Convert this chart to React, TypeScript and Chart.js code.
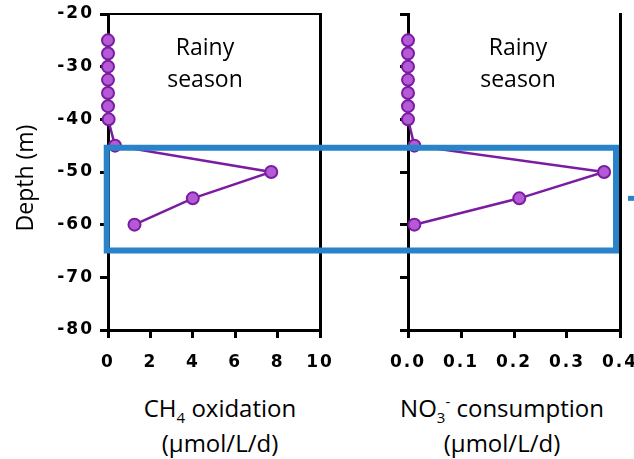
import React, { useEffect, useRef } from "react";
import { Chart, registerables } from "chart.js";

Chart.register(...registerables);

// ---- data ----
const depths = [-25, -27.5, -30, -32.5, -35, -37.5, -40, -45, -50, -55, -60];
const ch4Oxidation = [0, 0, 0, 0, 0, 0, 0.03, 0.33, 7.7, 4.0, 1.25];
const no3Consumption = [0, 0, 0, 0, 0, 0, 0, 0.012, 0.37, 0.21, 0.012];
const depthTicks = [-20, -30, -40, -50, -60, -70, -80];
const ch4Ticks = [0, 2, 4, 6, 8, 10];
const no3Ticks = [0, 0.1, 0.2, 0.3, 0.4];
// highlighted depth band (m) and its horizontal extent on each panel
const bandDepths = [-45.4, -64.9];
const bandCh4Left = -0.06;
const bandNo3Right = 0.3925;
const arrowDepth = -55;

const BLUE = "#2a82c8";
const LINE = "#7b1ca0";
const FILL = "#b55ad6";
const TICK_FAMILY = "'DejaVu Sans', sans-serif";
const TICK_SIZE = 17;

Chart.defaults.font.family = TICK_FAMILY;
Chart.defaults.font.size = TICK_SIZE;
Chart.defaults.font.weight = "bold" as any;
Chart.defaults.color = "#000";

const spacingPlugin = {
  id: "spacing",
  beforeLayout(chart: any) {
    chart.ctx.letterSpacing = "2px";
  },
  beforeDraw(chart: any) {
    chart.ctx.letterSpacing = "2px";
  },
};

const leftBand = {
  id: "leftBand",
  afterDraw(chart: any) {
    const { ctx, scales } = chart;
    const top = scales.y.getPixelForValue(bandDepths[0]);
    const bot = scales.y.getPixelForValue(bandDepths[1]);
    const left = scales.x.getPixelForValue(bandCh4Left);
    ctx.save();
    ctx.strokeStyle = BLUE;
    ctx.lineWidth = 6;
    ctx.lineJoin = "miter";
    ctx.beginPath();
    ctx.moveTo(chart.width + 5, top);
    ctx.lineTo(left, top);
    ctx.lineTo(left, bot);
    ctx.lineTo(chart.width + 5, bot);
    ctx.stroke();
    ctx.restore();
  },
};

const rightBand = {
  id: "rightBand",
  afterDraw(chart: any) {
    const { ctx, scales } = chart;
    const top = scales.y.getPixelForValue(bandDepths[0]);
    const bot = scales.y.getPixelForValue(bandDepths[1]);
    const right = scales.x.getPixelForValue(bandNo3Right);
    ctx.save();
    ctx.strokeStyle = BLUE;
    ctx.lineWidth = 6;
    ctx.lineJoin = "miter";
    ctx.beginPath();
    ctx.moveTo(-5, top);
    ctx.lineTo(right, top);
    ctx.lineTo(right, bot);
    ctx.lineTo(-5, bot);
    ctx.stroke();
    const ay = scales.y.getPixelForValue(arrowDepth);
    ctx.fillStyle = BLUE;
    ctx.fillRect(right + 12, ay - 2.5, 6, 5);
    ctx.restore();
  },
};

function makeConfig(
  values: number[],
  xTicks: number[],
  fmt: (v: number) => string,
  yWidth: number,
  y2Width: number,
  showYLabels: boolean,
  topBorder: boolean,
  band: any
): any {
  const points = values.map((v, i) => ({ x: v, y: depths[i] }));
  const tickFont = { family: TICK_FAMILY, size: TICK_SIZE, weight: "bold" };
  const scales: any = {
    x: {
      type: "linear",
      position: "bottom",
      min: xTicks[0],
      max: xTicks[xTicks.length - 1],
      afterBuildTicks: (s: any) => {
        s.ticks = xTicks.map((v) => ({ value: v }));
      },
      afterFit: (s: any) => {
        s.height = 50;
        s.paddingLeft = 0;
        s.paddingRight = 0;
      },
      ticks: {
        callback: (v: any) => fmt(Number(v)),
        font: tickFont,
        color: "#000",
        padding: 14,
        maxRotation: 0,
        minRotation: 0,
        autoSkip: false,
      },
      grid: { drawOnChartArea: false, drawTicks: true, tickLength: 8, lineWidth: 3, color: "#000" },
      border: { display: true, width: 3, color: "#000" },
    },
    y: {
      type: "linear",
      position: "left",
      min: -80,
      max: -20,
      afterBuildTicks: (s: any) => {
        s.ticks = depthTicks.map((v) => ({ value: v }));
      },
      afterFit: (s: any) => {
        s.width = yWidth;
        s.paddingTop = 0;
        s.paddingBottom = 0;
      },
      ticks: {
        display: showYLabels,
        callback: (v: any) => String(v),
        font: tickFont,
        color: "#000",
        padding: 6,
        autoSkip: false,
      },
      grid: { drawOnChartArea: false, drawTicks: true, tickLength: 8, lineWidth: 3, color: "#000" },
      border: { display: true, width: 3, color: "#000" },
    },
    y2: {
      type: "linear",
      position: "right",
      min: -80,
      max: -20,
      afterFit: (s: any) => {
        s.width = y2Width;
      },
      ticks: { display: false },
      grid: { display: false },
      border: { display: true, width: 3, color: "#000" },
    },
  };
  if (topBorder) {
    scales.x2 = {
      type: "linear",
      position: "top",
      min: xTicks[0],
      max: xTicks[xTicks.length - 1],
      afterFit: (s: any) => {
        s.height = 0;
      },
      ticks: { display: false },
      grid: { display: false },
      border: { display: true, width: 2, color: "#000" },
    };
  }
  return {
    type: "scatter",
    data: {
      datasets: [
        {
          data: points,
          showLine: true,
          borderColor: LINE,
          borderWidth: 2.5,
          pointRadius: 6,
          pointBackgroundColor: FILL,
          pointBorderColor: LINE,
          pointBorderWidth: 2,
          clip: false,
        },
      ],
    },
    options: {
      animation: false,
      responsive: false,
      maintainAspectRatio: false,
      devicePixelRatio: 1,
      layout: { padding: { top: 14, left: 0, right: 0, bottom: 0 } },
      plugins: { legend: { display: false }, tooltip: { enabled: false }, title: { display: false } },
      events: [],
      scales,
    },
    plugins: [spacingPlugin, band],
  };
}

const textStyle: React.CSSProperties = {
  position: "absolute",
  fontFamily: "'Open Sans', sans-serif",
  fontSize: 23,
  color: "#000",
  textAlign: "center",
  whiteSpace: "nowrap",
};

export default function App() {
  const leftRef = useRef<HTMLCanvasElement>(null);
  const rightRef = useRef<HTMLCanvasElement>(null);

  useEffect(() => {
    document.body.style.margin = "0";
    const c1 = new Chart(
      leftRef.current as HTMLCanvasElement,
      makeConfig(ch4Oxidation, ch4Ticks, (v) => String(v), 108, 20, true, true, leftBand)
    );
    const c2 = new Chart(
      rightRef.current as HTMLCanvasElement,
      makeConfig(no3Consumption, no3Ticks, (v) => v.toFixed(1), 68, 14, false, false, rightBand)
    );
    return () => {
      c1.destroy();
      c2.destroy();
    };
  }, []);

  const subStyle: React.CSSProperties = { fontSize: 15, position: "relative", top: 6 };
  const supStyle: React.CSSProperties = { fontSize: 15, position: "relative", top: -10 };

  return (
    <div
      style={{
        position: "fixed",
        left: 0,
        top: 0,
        width: 634,
        height: 459,
        background: "#fff",
        overflow: "hidden",
      }}
    >
      <canvas
        ref={leftRef}
        width={340}
        height={380}
        style={{ position: "absolute", left: 0, top: 0, width: 340, height: 380 }}
      />
      <canvas
        ref={rightRef}
        width={294}
        height={380}
        style={{ position: "absolute", left: 340, top: 0, width: 294, height: 380 }}
      />
      {/* y axis title */}
      <div
        style={{
          ...textStyle,
          left: 24 - 100,
          top: 178 - 16,
          width: 200,
          lineHeight: "32px",
          transform: "rotate(-90deg)",
        }}
      >
        Depth (m)
      </div>
      {/* panel labels */}
      <div style={{ ...textStyle, left: 205 - 60, top: 30, width: 120, lineHeight: "32px" }}>
        Rainy
        <br />
        season
      </div>
      <div style={{ ...textStyle, left: 518 - 60, top: 30, width: 120, lineHeight: "32px" }}>
        Rainy
        <br />
        season
      </div>
      {/* x axis titles */}
      <div style={{ ...textStyle, fontSize: 24, left: 220 - 110, top: 392, width: 220, lineHeight: "31px" }}>
        CH<span style={subStyle}>4</span> oxidation
        <br />
        (µmol/L/d)
      </div>
      <div style={{ ...textStyle, fontSize: 24, left: 502 - 130, top: 392, width: 260, lineHeight: "31px" }}>
        NO<span style={subStyle}>3</span>
        <span style={supStyle}>-</span> consumption
        <br />
        (µmol/L/d)
      </div>
    </div>
  );
}
